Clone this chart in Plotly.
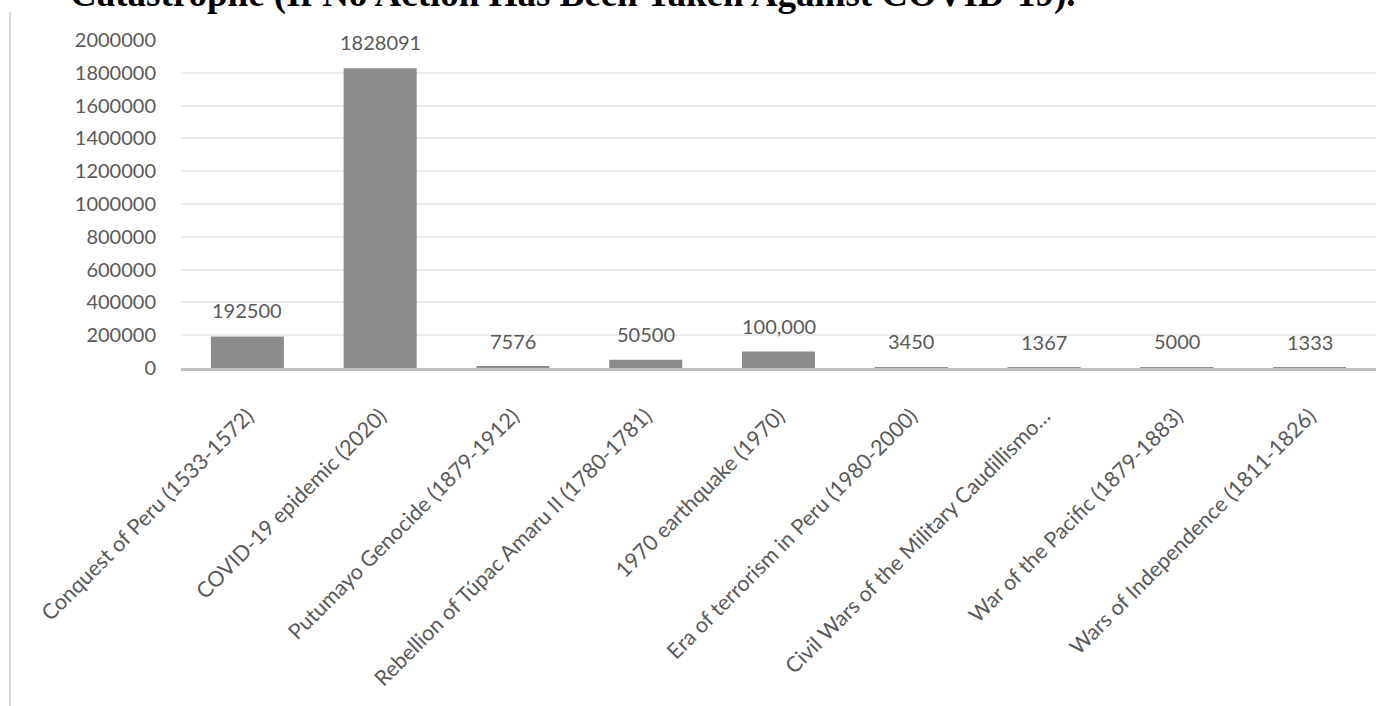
import plotly.graph_objects as go

# Deaths per historical catastrophe in Peru
events = [
    "Conquest of Peru (1533-1572)",
    "COVID-19 epidemic (2020)",
    "Putumayo Genocide (1879-1912)",
    "Rebellion of Túpac Amaru II (1780-1781)",
    "1970 earthquake (1970)",
    "Era of terrorism in Peru (1980-2000)",
    "Civil Wars of the Military Caudillismo…",
    "War of the Pacific (1879-1883)",
    "Wars of Independence (1811-1826)",
]
deaths = [192500, 1828091, 7576, 50500, 100000, 3450, 1367, 5000, 1333]
thousands_sep = [False, False, False, False, True, False, False, False, False]

y_ticks = list(range(0, 2000001, 200000))

title_text = "Catastrophe (If No Action Has Been Taken Against COVID-19)."

W, H = 1391, 706
M_L, M_R, M_T, M_B = 181, 15, 40, 338
plot_w = W - M_L - M_R
plot_h = H - M_T - M_B

label_font = dict(family="Lato, 'Open Sans', sans-serif", size=20, color="#595959")
cat_font = dict(family="Lato, 'Open Sans', sans-serif", size=21.5, color="#595959")

fig = go.Figure(
    go.Bar(
        x=events,
        y=deaths,
        marker=dict(color="#8c8c8c", line=dict(width=0)),
        hoverinfo="x+y",
    )
)

# value labels just above each bar
for ev, v, sep in zip(events, deaths, thousands_sep):
    fig.add_annotation(
        x=ev, y=v, xref="x", yref="y",
        text=f"{v:,}" if sep else str(v),
        showarrow=False, yanchor="middle", yshift=26,
        font=label_font,
    )

# chart title, partly above the visible area
fig.add_annotation(
    xref="paper", yref="paper",
    x=(68 - M_L) / plot_w, xanchor="left",
    y=1 + (M_T + 6) / plot_h, yanchor="middle",
    text=f"<b>{title_text}</b>",
    showarrow=False,
    font=dict(family="'Liberation Serif', 'Times New Roman', serif", size=37, color="#000000"),
)

# chart area border on the left side
fig.add_shape(
    type="line", xref="paper", yref="paper",
    x0=(10 - M_L) / plot_w, x1=(10 - M_L) / plot_w,
    y0=-(M_B + 5) / plot_h, y1=1 + (M_T - 12) / plot_h,
    line=dict(color="#d9d9d9", width=2),
)

fig.update_layout(
    width=W, height=H,
    margin=dict(l=M_L, r=M_R, t=M_T, b=M_B, autoexpand=False),
    paper_bgcolor="white", plot_bgcolor="white",
    bargap=0.45,
    showlegend=False,
    xaxis=dict(
        tickangle=-45,
        tickfont=cat_font,
        showline=True, linecolor="#bfbfbf", linewidth=3,
        ticks="", showgrid=False,
        ticklabelstandoff=24,
    ),
    yaxis=dict(
        range=[0, 2000000],
        tickvals=y_ticks,
        tickformat="d",
        tickfont=label_font,
        showgrid=True, gridcolor="#ececec", gridwidth=2,
        zeroline=False, showline=False, ticks="",
        ticklabelstandoff=24,
    ),
)

fig.write_html("out.html")
